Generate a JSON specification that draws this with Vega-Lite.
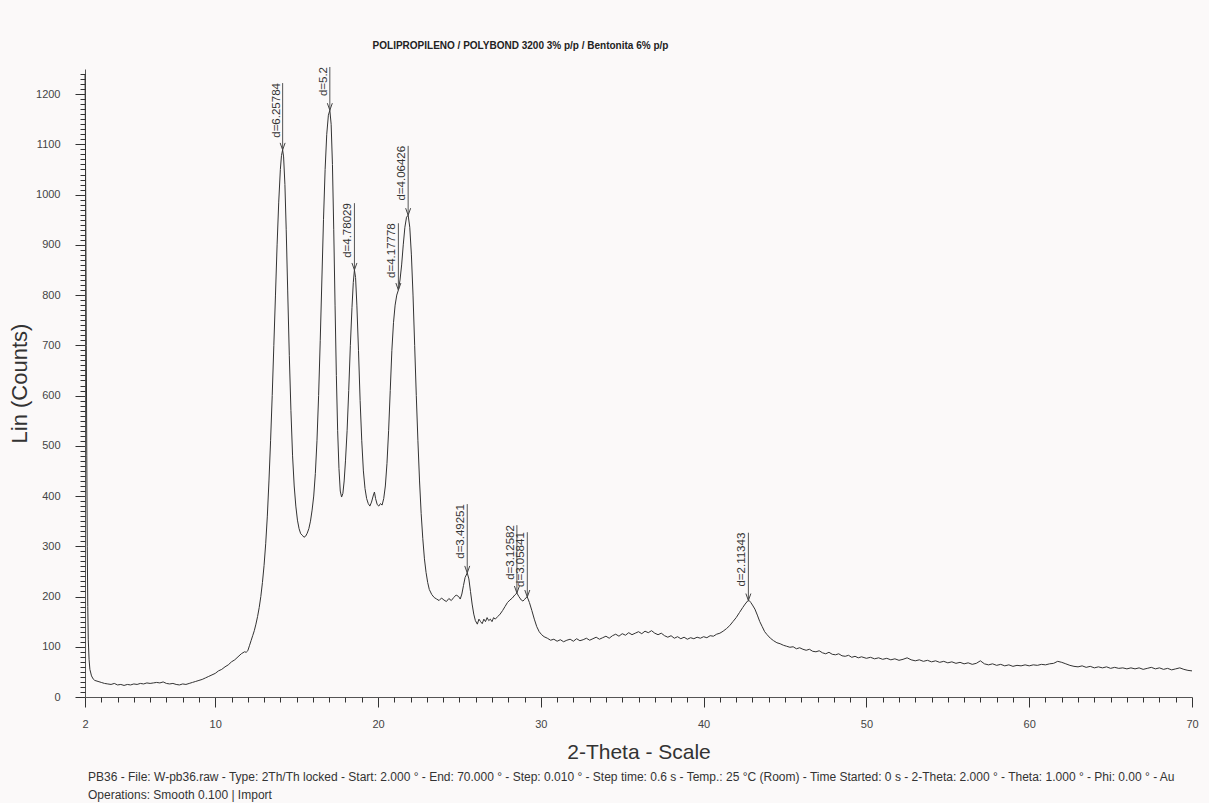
{
  "$schema": "https://vega.github.io/schema/vega-lite/v6.json",
  "width": 1107,
  "height": 628,
  "autosize": {"type": "none"},
  "padding": {"left": 85, "top": 69, "right": 17, "bottom": 106},
  "background": "#fbf9f9",
  "config": {"view": {"stroke": null}, "font": "Liberation Sans"},
  "title": {
    "text": ["PB36 - File: W-pb36.raw - Type: 2Th/Th locked - Start: 2.000 ° - End: 70.000 ° - Step: 0.010 ° - Step time: 0.6 s - Temp.: 25 °C (Room) - Time Started: 0 s - 2-Theta: 2.000 ° - Theta: 1.000 ° - Phi: 0.00 ° - Au", "Operations: Smooth 0.100 | Import"],
    "orient": "bottom", "anchor": "start", "frame": "group", "dx": 3,
    "font": "Liberation Sans", "fontSize": 12, "fontWeight": "normal", "color": "#333333",
    "lineHeight": 18, "offset": 10
  },
  "datasets": {
    "curve": [
      {"t":2.0,"c":1240},{"t":2.02,"c":1150},{"t":2.05,"c":950},{"t":2.08,"c":700},{"t":2.11,"c":480},{"t":2.14,"c":300},{"t":2.17,"c":180},{"t":2.2,"c":115},{"t":2.25,"c":75},{"t":2.3,"c":55},{"t":2.4,"c":42},{"t":2.5,"c":36},{"t":2.6,"c":33},{"t":2.8,"c":31},{"t":3.0,"c":29},
      {"t":3.2,"c":27},{"t":3.4,"c":26},{"t":3.6,"c":25},{"t":3.8,"c":27},{"t":4.0,"c":24},{"t":4.2,"c":25},{"t":4.4,"c":23},{"t":4.6,"c":25},{"t":4.8,"c":24},{"t":5.0,"c":26},{"t":5.2,"c":25},{"t":5.4,"c":27},{"t":5.6,"c":26},{"t":5.8,"c":28},{"t":6.0,"c":27},{"t":6.2,"c":28},{"t":6.4,"c":29},{"t":6.6,"c":28},{"t":6.8,"c":30},{"t":7.0,"c":27},{"t":7.2,"c":26},{"t":7.4,"c":27},{"t":7.6,"c":25},{"t":7.8,"c":24},{"t":8.0,"c":26},{"t":8.2,"c":25},{"t":8.4,"c":27},{"t":8.6,"c":29},{"t":8.8,"c":31},{"t":9.0,"c":33},{"t":9.2,"c":35},{"t":9.4,"c":38},{"t":9.6,"c":41},{"t":9.8,"c":44},{"t":10.0,"c":47},{"t":10.2,"c":52},{"t":10.4,"c":55},{"t":10.6,"c":60},{"t":10.8,"c":64},{"t":11.0,"c":70},{"t":11.2,"c":74},{"t":11.4,"c":80},{"t":11.6,"c":86},{"t":11.8,"c":90},{"t":11.9,"c":89},{"t":12.0,"c":92},{"t":12.1,"c":102},{"t":12.2,"c":112},{"t":12.3,"c":122},{"t":12.4,"c":132},{"t":12.5,"c":145},{"t":12.6,"c":160},{"t":12.7,"c":178},{"t":12.8,"c":200},{"t":12.9,"c":228},{"t":13.0,"c":262},{"t":13.1,"c":305},{"t":13.2,"c":360},{"t":13.3,"c":430},{"t":13.4,"c":510},{"t":13.5,"c":600},{"t":13.6,"c":700},{"t":13.7,"c":800},{"t":13.8,"c":900},{"t":13.9,"c":985},{"t":14.0,"c":1050},{"t":14.07,"c":1078},{"t":14.14,"c":1089},{"t":14.2,"c":1075},{"t":14.28,"c":1020},{"t":14.36,"c":930},{"t":14.45,"c":810},{"t":14.55,"c":680},{"t":14.65,"c":570},{"t":14.75,"c":480},{"t":14.85,"c":420},{"t":14.95,"c":380},{"t":15.05,"c":352},{"t":15.15,"c":335},{"t":15.25,"c":325},{"t":15.35,"c":322},{"t":15.45,"c":318},{"t":15.55,"c":320},{"t":15.65,"c":326},{"t":15.75,"c":335},{"t":15.85,"c":350},{"t":15.95,"c":372},{"t":16.05,"c":400},{"t":16.15,"c":445},{"t":16.25,"c":510},{"t":16.35,"c":600},{"t":16.45,"c":710},{"t":16.55,"c":830},{"t":16.65,"c":950},{"t":16.75,"c":1050},{"t":16.85,"c":1120},{"t":16.95,"c":1158},{"t":17.04,"c":1168},{"t":17.12,"c":1140},{"t":17.2,"c":1060},{"t":17.28,"c":930},{"t":17.36,"c":780},{"t":17.44,"c":640},{"t":17.52,"c":530},{"t":17.6,"c":455},{"t":17.68,"c":410},{"t":17.76,"c":398},{"t":17.84,"c":405},{"t":17.92,"c":430},{"t":18.0,"c":470},{"t":18.1,"c":530},{"t":18.2,"c":610},{"t":18.3,"c":700},{"t":18.4,"c":775},{"t":18.48,"c":825},{"t":18.55,"c":850},{"t":18.62,"c":835},{"t":18.7,"c":780},{"t":18.8,"c":690},{"t":18.9,"c":590},{"t":19.0,"c":510},{"t":19.1,"c":450},{"t":19.2,"c":415},{"t":19.3,"c":395},{"t":19.4,"c":385},{"t":19.5,"c":380},{"t":19.6,"c":388},{"t":19.7,"c":400},{"t":19.78,"c":408},{"t":19.85,"c":395},{"t":19.95,"c":383},{"t":20.05,"c":380},{"t":20.15,"c":385},{"t":20.25,"c":382},{"t":20.35,"c":395},{"t":20.45,"c":420},{"t":20.55,"c":465},{"t":20.65,"c":530},{"t":20.75,"c":610},{"t":20.85,"c":690},{"t":20.95,"c":745},{"t":21.05,"c":780},{"t":21.15,"c":800},{"t":21.25,"c":810},{"t":21.35,"c":830},{"t":21.45,"c":860},{"t":21.55,"c":900},{"t":21.65,"c":935},{"t":21.75,"c":955},{"t":21.85,"c":959},{"t":21.95,"c":935},{"t":22.05,"c":880},{"t":22.15,"c":800},{"t":22.25,"c":700},{"t":22.35,"c":600},{"t":22.45,"c":510},{"t":22.55,"c":430},{"t":22.65,"c":365},{"t":22.75,"c":315},{"t":22.85,"c":275},{"t":22.95,"c":248},{"t":23.05,"c":228},{"t":23.15,"c":214},{"t":23.3,"c":204},{"t":23.45,"c":198},{"t":23.6,"c":195},{"t":23.75,"c":192},{"t":23.9,"c":197},{"t":24.05,"c":193},{"t":24.2,"c":190},{"t":24.35,"c":196},{"t":24.5,"c":192},{"t":24.65,"c":198},{"t":24.8,"c":203},{"t":24.95,"c":200},{"t":25.05,"c":195},{"t":25.15,"c":205},{"t":25.25,"c":222},{"t":25.35,"c":238},{"t":25.48,"c":247},{"t":25.58,"c":235},{"t":25.68,"c":210},{"t":25.78,"c":185},{"t":25.88,"c":165},{"t":25.98,"c":152},{"t":26.1,"c":145},{"t":26.2,"c":155},{"t":26.3,"c":150},{"t":26.4,"c":146},{"t":26.5,"c":155},{"t":26.6,"c":150},{"t":26.7,"c":158},{"t":26.8,"c":152},{"t":26.9,"c":155},{"t":27.0,"c":150},{"t":27.1,"c":158},{"t":27.2,"c":155},{"t":27.35,"c":160},{"t":27.5,"c":165},{"t":27.65,"c":172},{"t":27.8,"c":180},{"t":27.95,"c":188},{"t":28.1,"c":193},{"t":28.25,"c":197},{"t":28.4,"c":203},{"t":28.53,"c":207},{"t":28.65,"c":200},{"t":28.8,"c":193},{"t":28.9,"c":191},{"t":29.0,"c":194},{"t":29.1,"c":198},{"t":29.17,"c":199},{"t":29.3,"c":188},{"t":29.45,"c":172},{"t":29.6,"c":155},{"t":29.75,"c":140},{"t":29.9,"c":130},{"t":30.05,"c":124},{"t":30.2,"c":120},
      {"t":30.4,"c":117},{"t":30.6,"c":113},{"t":30.8,"c":115},{"t":31.0,"c":111},{"t":31.2,"c":114},{"t":31.4,"c":110},{"t":31.6,"c":113},{"t":31.8,"c":115},{"t":32.0,"c":111},{"t":32.2,"c":116},{"t":32.4,"c":112},{"t":32.6,"c":114},{"t":32.8,"c":117},{"t":33.0,"c":113},{"t":33.2,"c":116},{"t":33.4,"c":119},{"t":33.6,"c":115},{"t":33.8,"c":118},{"t":34.0,"c":121},{"t":34.2,"c":117},{"t":34.4,"c":122},{"t":34.6,"c":125},{"t":34.8,"c":121},{"t":35.0,"c":126},{"t":35.2,"c":123},{"t":35.4,"c":128},{"t":35.6,"c":124},{"t":35.8,"c":127},{"t":36.0,"c":130},{"t":36.2,"c":126},{"t":36.4,"c":131},{"t":36.6,"c":128},{"t":36.8,"c":132},{"t":37.0,"c":127},{"t":37.2,"c":124},{"t":37.4,"c":127},{"t":37.6,"c":122},{"t":37.8,"c":119},{"t":38.0,"c":122},{"t":38.2,"c":117},{"t":38.4,"c":120},{"t":38.6,"c":116},{"t":38.8,"c":119},{"t":39.0,"c":115},{"t":39.2,"c":118},{"t":39.4,"c":116},{"t":39.6,"c":119},{"t":39.8,"c":117},{"t":40.0,"c":120},{"t":40.2,"c":118},{"t":40.4,"c":122},{"t":40.6,"c":121},{"t":40.8,"c":125},{"t":41.0,"c":127},{"t":41.2,"c":131},{"t":41.4,"c":136},{"t":41.6,"c":142},{"t":41.8,"c":150},{"t":42.0,"c":158},{"t":42.2,"c":168},{"t":42.4,"c":178},{"t":42.55,"c":185},{"t":42.7,"c":191},{"t":42.8,"c":192},{"t":42.9,"c":188},{"t":43.0,"c":183},{"t":43.15,"c":175},{"t":43.3,"c":163},{"t":43.45,"c":150},{"t":43.6,"c":140},{"t":43.75,"c":130},{"t":43.9,"c":124},{"t":44.1,"c":117},{"t":44.3,"c":112},{"t":44.5,"c":108},{"t":44.7,"c":106},{"t":44.9,"c":103},{"t":45.1,"c":101},{"t":45.3,"c":99},{"t":45.5,"c":100},{"t":45.7,"c":96},{"t":45.9,"c":98},{"t":46.1,"c":95},{"t":46.3,"c":93},{"t":46.5,"c":95},{"t":46.7,"c":91},{"t":46.9,"c":90},{"t":47.1,"c":92},{"t":47.3,"c":88},{"t":47.5,"c":86},{"t":47.7,"c":89},{"t":47.9,"c":85},{"t":48.1,"c":84},{"t":48.3,"c":86},{"t":48.5,"c":82},{"t":48.7,"c":81},{"t":48.9,"c":83},{"t":49.1,"c":79},{"t":49.3,"c":81},{"t":49.5,"c":78},{"t":49.7,"c":80},
      {"t":50.0,"c":77},{"t":50.25,"c":79},{"t":50.5,"c":76},{"t":50.75,"c":78},{"t":51.0,"c":75},{"t":51.25,"c":77},{"t":51.5,"c":74},{"t":51.75,"c":76},{"t":52.0,"c":73},{"t":52.25,"c":75},{"t":52.5,"c":78},{"t":52.75,"c":74},{"t":53.0,"c":72},{"t":53.25,"c":74},{"t":53.5,"c":71},{"t":53.75,"c":73},{"t":54.0,"c":70},{"t":54.25,"c":72},{"t":54.5,"c":69},{"t":54.75,"c":71},{"t":55.0,"c":68},{"t":55.25,"c":70},{"t":55.5,"c":67},{"t":55.75,"c":69},{"t":56.0,"c":66},{"t":56.25,"c":68},{"t":56.5,"c":65},{"t":56.75,"c":67},{"t":57.0,"c":72},{"t":57.25,"c":66},{"t":57.5,"c":64},{"t":57.75,"c":66},{"t":58.0,"c":63},{"t":58.25,"c":65},{"t":58.5,"c":62},{"t":58.75,"c":64},{"t":59.0,"c":61},{"t":59.25,"c":63},{"t":59.5,"c":62},{"t":59.75,"c":64},{"t":60.0,"c":62},{"t":60.25,"c":64},{"t":60.5,"c":63},{"t":60.75,"c":65},{"t":61.0,"c":64},{"t":61.25,"c":66},{"t":61.5,"c":67},{"t":61.75,"c":71},{"t":62.0,"c":69},{"t":62.25,"c":66},{"t":62.5,"c":63},{"t":62.75,"c":61},{"t":63.0,"c":60},{"t":63.25,"c":62},{"t":63.5,"c":59},{"t":63.75,"c":61},{"t":64.0,"c":58},{"t":64.25,"c":60},{"t":64.5,"c":58},{"t":64.75,"c":60},{"t":65.0,"c":57},{"t":65.25,"c":59},{"t":65.5,"c":57},{"t":65.75,"c":58},{"t":66.0,"c":56},{"t":66.25,"c":58},{"t":66.5,"c":56},{"t":66.75,"c":58},{"t":67.0,"c":55},{"t":67.25,"c":57},{"t":67.5,"c":59},{"t":67.75,"c":56},{"t":68.0,"c":58},{"t":68.25,"c":55},{"t":68.5,"c":57},{"t":68.75,"c":54},{"t":69.0,"c":56},{"t":69.25,"c":58},{"t":69.5,"c":55},{"t":69.75,"c":53},{"t":70.0,"c":52}
    ],
    "peaks": [
      {"t":14.14,"p":1089,"top":1222,"d":"d=6.25784"},
      {"t":17.04,"p":1168,"top":1254,"d":"d=5.2"},
      {"t":18.55,"p":850,"top":983,"d":"d=4.78029"},
      {"t":21.25,"p":810,"top":943,"d":"d=4.17778"},
      {"t":21.85,"p":959,"top":1097,"d":"d=4.06426"},
      {"t":25.48,"p":247,"top":384,"d":"d=3.49251"},
      {"t":28.53,"p":207,"top":342,"d":"d=3.12582"},
      {"t":29.17,"p":199,"top":328,"d":"d=3.05841"},
      {"t":42.75,"p":192,"top":327,"d":"d=2.11343"}
    ]
  },
  "resolve": {"axis": {"x": "independent", "y": "independent"}},
  "layer": [
    {
      "data": {"name": "curve"},
      "mark": {"type": "line", "stroke": "#333333", "strokeWidth": 1},
      "encoding": {
        "x": {"field": "t", "type": "quantitative",
          "scale": {"domain": [2, 70], "nice": false, "zero": false},
          "axis": {
            "orient": "bottom",
            "values": [2,10,20,30,40,50,60,70],
            "ticks": true, "tickSize": 10, "tickWidth": 1, "tickColor": "#333333",
            "labelOverlap": false, "labelFlush": false,
            "labelFont": "Liberation Sans", "labelFontSize": 11, "labelColor": "#444444", "labelPadding": 11,
            "domainColor": "#555555", "grid": false,
            "title": "2-Theta - Scale", "titleFont": "Liberation Sans", "titleFontSize": 21, "titleFontWeight": "normal", "titleColor": "#333333", "titlePadding": 12
          }
        },
        "y": {"field": "c", "type": "quantitative",
          "scale": {"domain": [0, 1250], "nice": false},
          "axis": {
            "values": [0,100,200,300,400,500,600,700,800,900,1000,1100,1200],
            "format": "d", "ticks": true, "tickSize": 10, "tickWidth": 1, "tickColor": "#333333",
            "labelOverlap": false, "labelFlush": false,
            "labelFont": "Liberation Sans", "labelFontSize": 11, "labelColor": "#444444", "labelPadding": 15,
            "domainColor": "#555555", "grid": false,
            "title": "Lin (Counts)", "titleFont": "Liberation Sans", "titleFontSize": 22, "titleFontWeight": "normal", "titleColor": "#333333", "titlePadding": 4
          }
        }
      }
    },
    {
      "data": {"name": "peaks"},
      "mark": {"type": "rule", "stroke": "#555555", "strokeWidth": 1},
      "encoding": {
        "x": {"field": "t", "type": "quantitative",
          "axis": {"orient": "top", "domain": false, "ticks": false, "labels": false, "grid": false,
            "title": "POLIPROPILENO / POLYBOND 3200 3% p/p / Bentonita 6% p/p",
            "titleFont": "Liberation Sans", "titleFontSize": 10, "titleFontWeight": "bold", "titleColor": "#222222",
            "titleX": 435, "titleY": -24, "titleAlign": "center", "titleBaseline": "middle"}},
        "y": {"field": "top", "type": "quantitative", "axis": null},
        "y2": {"field": "p"}
      }
    },
    {
      "data": {"name": "peaks"},
      "mark": {"type": "point", "shape": "M-0.5,-1.4L0,0L0.5,-1.4", "filled": false, "stroke": "#444444", "strokeWidth": 1, "size": 100, "opacity": 1},
      "encoding": {
        "x": {"field": "t", "type": "quantitative",
          "axis": {"orient": "bottom", "values": [3,4,5,6,7,8,9,11,12,13,14,15,16,17,18,19,21,22,23,24,25,26,27,28,29,31,32,33,34,35,36,37,38,39,41,42,43,44,45,46,47,48,49,51,52,53,54,55,56,57,58,59,61,62,63,64,65,66,67,68,69],
            "ticks": true, "tickSize": 5, "tickWidth": 1, "tickColor": "#333333", "labels": false, "domain": false, "grid": false, "title": null}},
        "y": {"field": "p", "type": "quantitative",
          "axis": {"orient": "left", "values": [10,20,30,40,50,60,70,80,90,110,120,130,140,150,160,170,180,190,210,220,230,240,250,260,270,280,290,310,320,330,340,350,360,370,380,390,410,420,430,440,450,460,470,480,490,510,520,530,540,550,560,570,580,590,610,620,630,640,650,660,670,680,690,710,720,730,740,750,760,770,780,790,810,820,830,840,850,860,870,880,890,910,920,930,940,950,960,970,980,990,1010,1020,1030,1040,1050,1060,1070,1080,1090,1110,1120,1130,1140,1150,1160,1170,1180,1190,1210,1220,1230,1240],
            "ticks": true, "tickSize": 5, "tickWidth": 1, "tickColor": "#333333", "labels": false, "domain": false, "grid": false, "title": null}}
      }
    },
    {
      "data": {"name": "peaks"},
      "mark": {"type": "text", "angle": 270, "align": "right", "baseline": "bottom", "dy": -1, "font": "Liberation Sans", "fontSize": 11.5, "color": "#333333"},
      "encoding": {
        "x": {"field": "t", "type": "quantitative", "axis": null},
        "y": {"field": "top", "type": "quantitative", "axis": null},
        "text": {"field": "d"}
      }
    }
  ]
}
